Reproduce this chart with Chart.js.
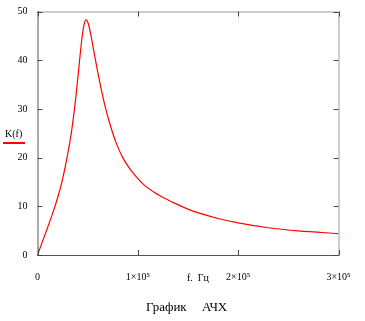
<!DOCTYPE html>
<html>
<head>
<meta charset="utf-8">
<script src="https://cdn.jsdelivr.net/npm/chart.js@4"></script>
<style>
  html, body { margin: 0; padding: 0; background: #fff; }
  #wrap { position: relative; width: 365px; height: 321px; font-family: "Liberation Serif", "DejaVu Serif", serif; color: #000; }
  #wrap canvas { position: absolute; left: 0; top: 0; }
  .lbl { position: absolute; white-space: nowrap; line-height: 1; }
  #ylab { left: 5px; top: 129px; font-size: 10px; }
  #ylab-line { position: absolute; left: 3px; top: 142px; width: 22px; height: 2px; background: #ff0000; }
  #xlab { left: 187px; top: 273px; font-size: 10px; }
  #title1 { left: 146px; top: 300px; font-size: 13px; }
  #title2 { left: 202px; top: 300px; font-size: 13px; }
</style>
</head>
<body>
<div id="wrap">
  <canvas id="chart" width="365" height="321"></canvas>
  <div class="lbl" id="ylab">K(f)</div>
  <div id="ylab-line"></div>
  <div class="lbl" id="xlab">f.&nbsp; Гц</div>
  <div class="lbl" id="title1">График</div>
  <div class="lbl" id="title2">АЧХ</div>
</div>
<script>
// ── Data ─────────────────────────────────────────────────────────────────────
const freq = [0, 5000, 10000, 15000, 20000, 25000, 30000, 34000, 38000, 41000, 44000,
              46500, 48500, 50500, 53000, 56000, 60000, 64000, 68000, 75000, 80000,
              85000, 90000, 95000, 105000, 120000, 135000, 155000, 180000, 200000,
              230000, 260000, 300000];
const gain = [0, 2.8, 5.6, 8.5, 11.7, 15.6, 20.6, 25.5, 32.0, 38.0, 44.0,
              47.4, 48.3, 47.6, 45.4, 42.0, 37.6, 33.6, 30.0, 25.0, 22.2,
              20.0, 18.3, 16.9, 14.6, 12.4, 10.8, 9.0, 7.5, 6.6,
              5.6, 4.95, 4.4];
const xTicks = [0, 100000, 200000, 300000];
const xTickLabels = ["0", "1×10⁵", "2×10⁵", "3×10⁵"];
const yTicks = [0, 10, 20, 30, 40, 50];

const points = freq.map((f, i) => ({ x: f, y: gain[i] }));

// ── Frame + inward tick marks ────────────────────────────────────────────────
const framePlugin = {
  id: "frame",
  afterDatasetsDraw(chart) {
    const { ctx, chartArea: a, scales: { x, y } } = chart;
    ctx.save();
    ctx.lineWidth = 1;
    // top / right in lighter grey
    ctx.strokeStyle = "#9a9a9a";
    ctx.beginPath();
    ctx.moveTo(a.left, a.top + 0.5); ctx.lineTo(a.right, a.top + 0.5);
    ctx.moveTo(a.right + 0.5, a.top); ctx.lineTo(a.right + 0.5, a.bottom);
    ctx.stroke();
    // left / bottom darker
    ctx.strokeStyle = "#555";
    ctx.beginPath();
    ctx.moveTo(a.left + 0.5, a.top); ctx.lineTo(a.left + 0.5, a.bottom + 1);
    ctx.moveTo(a.left, a.bottom + 0.5); ctx.lineTo(a.right + 1, a.bottom + 0.5);
    ctx.stroke();
    // ticks
    ctx.strokeStyle = "#444";
    ctx.beginPath();
    yTicks.forEach(v => {
      const py = Math.round(y.getPixelForValue(v)) + 0.5;
      ctx.moveTo(a.left, py); ctx.lineTo(a.left + 5, py);
      ctx.moveTo(a.right, py); ctx.lineTo(a.right - 5, py);
    });
    xTicks.forEach(v => {
      const px = Math.round(x.getPixelForValue(v)) + 0.5;
      ctx.moveTo(px, a.bottom); ctx.lineTo(px, a.bottom - 5);
      ctx.moveTo(px, a.top); ctx.lineTo(px, a.top + 5);
    });
    ctx.stroke();
    ctx.restore();
  },
};

new Chart(document.getElementById("chart").getContext("2d"), {
  type: "line",
  data: {
    datasets: [{
      data: points,
      borderColor: "#ff0000",
      borderWidth: 1.2,
      pointRadius: 0,
      cubicInterpolationMode: "monotone",
      fill: false,
    }],
  },
  options: {
    responsive: false,
    animation: false,
    events: [],
    layout: { padding: { left: 0, right: 26.5, top: 11.5, bottom: 0 } },
    plugins: { legend: { display: false }, tooltip: { enabled: false } },
    scales: {
      x: {
        type: "linear",
        min: 0, max: 300000,
        afterBuildTicks: s => { s.ticks = xTicks.map(v => ({ value: v })); },
        afterFit: s => { s.height = 66; },
        grid: { display: false },
        border: { display: false },
        ticks: {
          padding: 8,
          color: "#000",
          maxRotation: 0,
          autoSkip: false,
          font: { family: "Liberation Serif", size: 10 },
          callback: v => xTickLabels[xTicks.indexOf(v)],
        },
      },
      y: {
        min: 0, max: 50,
        afterBuildTicks: s => { s.ticks = yTicks.map(v => ({ value: v })); },
        afterFit: s => { s.width = 37.5; },
        grid: { display: false },
        border: { display: false },
        ticks: {
          padding: 2,
          color: "#000",
          font: { family: "Liberation Serif", size: 10 },
        },
      },
    },
  },
  plugins: [framePlugin],
});
</script>
</body>
</html>
